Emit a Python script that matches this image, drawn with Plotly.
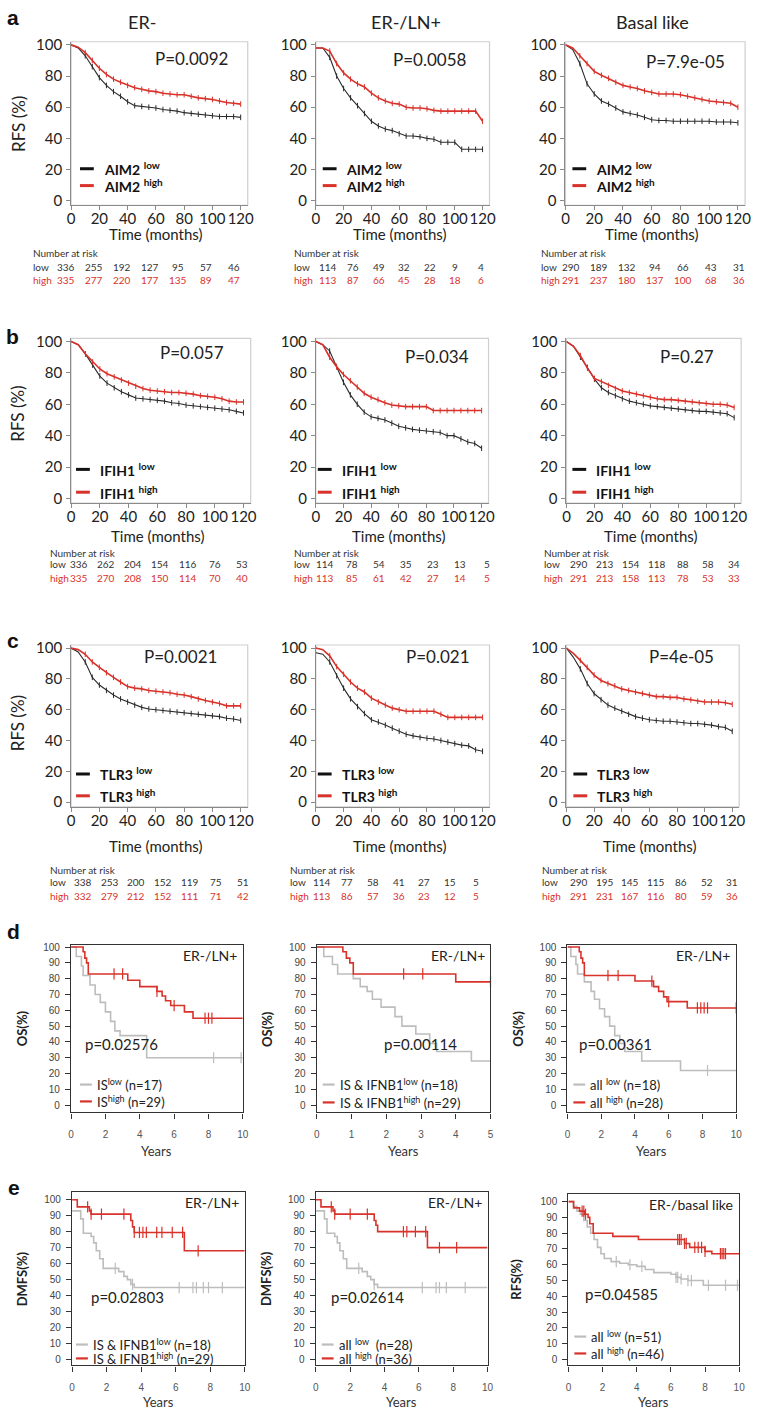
import plotly.graph_objects as go

W, H = 758, 1416
RED = '#d8322a'
BLACK = '#2b2b2b'
GRAY = '#bdbdbd'
FONT = 'Lato, Open Sans, sans-serif'
TICKFONT2 = 'Liberation Sans, Arial, sans-serif'

# ---------------- data: rows a-c (RFS, months) ----------------
T = [0, 5, 10, 15, 20, 25, 30, 35, 40, 45, 50, 55, 60, 65, 70, 75, 80, 85, 90, 95, 100, 105, 110, 115, 120]

a1_low = [100, 98, 93, 86, 79, 74, 70, 67, 63.5, 61, 60.5, 60, 59.5, 58.5, 58, 57.5, 56.5, 56, 55.5, 55, 54.5, 54, 54, 54, 53.5]
a1_high = [100, 98.5, 95, 90, 85, 81, 78, 76, 74, 72.5, 71.5, 70.5, 70, 69, 68.5, 68, 68, 67, 66, 65.5, 65, 64, 63, 62.5, 62]
a2_low = [98, 98, 92, 80, 72, 66, 61, 56, 51, 48, 46, 45, 43, 41.5, 41.5, 41, 40, 39.5, 37.5, 37.5, 37.5, 33, 33, 33, 33]
a2_high = [98, 98, 96, 88, 82, 78, 75, 73, 69, 66, 64, 62.5, 62, 60, 59.5, 59.5, 59, 58, 57.5, 57.5, 57.5, 57.5, 57.5, 57.5, 51]
a3_low = [100, 97, 88, 75, 68.5, 64, 62, 59.5, 57, 56, 55, 53.5, 52, 51.5, 51.5, 51, 51, 51, 51, 51, 51, 50.5, 50.5, 50.5, 50]
a3_high = [100, 98, 93, 88, 83, 80.5, 78.5, 76, 74, 73, 72, 70.5, 69.5, 68.5, 68.5, 68.5, 68, 67, 66, 65, 64, 63.5, 63, 62.5, 60]

b1_low = [100, 98, 92, 85, 78, 73.5, 70.5, 68, 66, 64, 63.5, 63, 62.5, 62, 61, 60.5, 59.5, 59, 58.5, 58, 57.5, 57, 56.5, 55.5, 54.5]
b1_high = [100, 98, 92, 87, 82.5, 79.5, 77.5, 75.5, 73.5, 71.5, 70, 69, 68.5, 68, 67.5, 67.5, 67, 66.5, 65.5, 65, 64.5, 63.5, 62, 61.5, 61.5]
b2_low = [100, 98, 94, 84, 74, 66, 60, 55, 52, 51, 50, 48, 46, 45, 44, 43.5, 43, 42.5, 42, 40, 40, 38, 36, 35, 32]
b2_high = [100, 98, 90, 84, 79, 75, 71, 67, 64.5, 63, 61, 59.5, 59, 58.5, 58.5, 58.5, 58.5, 56, 56, 56, 56, 56, 56, 56, 56]
b3_low = [100, 97, 90, 83.5, 76, 70.5, 67.5, 65.5, 63.5, 62, 61, 60, 59, 58.5, 58, 57.5, 57, 56.5, 56, 55.5, 55.5, 55, 54.5, 54, 51.5]
b3_high = [100, 97, 91, 83, 76.5, 74.5, 72, 70, 68.5, 67.5, 66.5, 65.5, 64.5, 63.5, 63, 63, 62.5, 62, 61.5, 61, 60.5, 60, 60, 59.5, 58]

c1_low = [100, 97.5, 91, 81, 76, 72.5, 69.5, 67, 65, 63, 61.5, 60.5, 60, 59.5, 59, 58.5, 58, 57.5, 57, 56.5, 56, 55.5, 54.5, 54, 53]
c1_high = [100, 99, 96, 91, 87.5, 84, 81, 78, 75, 74, 73.5, 72.5, 72, 71.5, 71, 70, 69.5, 68.5, 67, 66, 65, 64, 62.5, 62.5, 62.5]
c2_low = [97, 96, 91, 82, 74, 67, 62, 57.5, 53.5, 52, 50, 48, 46, 44, 43, 42, 41.5, 41, 40, 39, 38, 37, 36.5, 34, 33]
c2_high = [100, 99, 95, 88, 83, 78, 74, 71.5, 67.5, 65, 63, 61, 60, 59, 59, 59, 59, 59, 57, 55, 55, 55, 55, 55, 55]
c3_low = [100, 94, 86.5, 77, 70.5, 66.5, 63, 61, 59, 57, 55.5, 54.5, 53.5, 53, 52.5, 52.5, 52, 51.5, 51, 51, 50.5, 50, 49, 48.5, 46]
c3_high = [100, 96.5, 92, 87.5, 82.5, 79, 77, 75.5, 73.5, 72.5, 71.5, 70.5, 69.5, 68.5, 68.5, 68, 68, 67, 66.5, 65.5, 65, 65, 65, 64.5, 63.5]

# number at risk
a1_risk_low = [336, 255, 192, 127, 95, 57, 46]
a1_risk_high = [335, 277, 220, 177, 135, 89, 47]
a2_risk_low = [114, 76, 49, 32, 22, 9, 4]
a2_risk_high = [113, 87, 66, 45, 28, 18, 6]
a3_risk_low = [290, 189, 132, 94, 66, 43, 31]
a3_risk_high = [291, 237, 180, 137, 100, 68, 36]
b1_risk_low = [336, 262, 204, 154, 116, 76, 53]
b1_risk_high = [335, 270, 208, 150, 114, 70, 40]
b2_risk_low = [114, 78, 54, 35, 23, 13, 5]
b2_risk_high = [113, 85, 61, 42, 27, 14, 5]
b3_risk_low = [290, 213, 154, 118, 88, 58, 34]
b3_risk_high = [291, 213, 158, 113, 78, 53, 33]
c1_risk_low = [338, 253, 200, 152, 119, 75, 51]
c1_risk_high = [332, 279, 212, 152, 111, 71, 42]
c2_risk_low = [114, 77, 58, 41, 27, 15, 5]
c2_risk_high = [113, 86, 57, 36, 23, 12, 5]
c3_risk_low = [290, 195, 145, 115, 86, 52, 31]
c3_risk_high = [291, 231, 167, 116, 80, 59, 36]

genes = ['AIM2', 'IFIH1', 'TLR3']
col_titles = ['ER-', 'ER-/LN+', 'Basal like']
pvals_abc = [['P=0.0092', 'P=0.0058', 'P=7.9e-05'],
             ['P=0.057', 'P=0.034', 'P=0.27'],
             ['P=0.0021', 'P=0.021', 'P=4e-05']]

# ---------------- data: rows d-e (years) ----------------
d1_low_t = [0, 0.3, 0.6, 0.7, 1.1, 1.4, 1.7, 2.0, 2.3, 2.55, 2.85, 4.4, 10]
d1_low_s = [100, 94, 88, 82, 76, 70, 65, 59, 53, 47, 44, 30, 30]
d1_low_c = [8.3, 9.9]
d1_high_t = [0, 0.7, 0.8, 0.9, 1.0, 3.3, 4.0, 5.0, 5.3, 5.5, 5.8, 6.6, 7.1, 10]
d1_high_s = [100, 97, 93, 90, 83, 79, 75, 72, 69, 66, 63, 59, 55, 55]
d1_high_c = [2.5, 3.0, 5.0, 6.0, 7.8, 8.0, 8.2]

d2_low_t = [0, 0.2, 0.45, 0.6, 1.05, 1.25, 1.45, 1.6, 1.85, 2.25, 2.45, 2.85, 3.25, 3.45, 4.45, 5]
d2_low_s = [100, 94, 89, 83, 80, 75, 72, 67, 62, 56, 50, 45, 39, 34, 28, 28]
d2_low_c = []
d2_high_t = [0, 0.75, 0.85, 0.95, 1.05, 4.0, 5]
d2_high_s = [100, 97, 93, 90, 83, 78, 78]
d2_high_c = [2.5, 3.05, 5.0]

d3_low_t = [0, 0.2, 0.5, 0.6, 1.0, 1.4, 1.6, 1.9, 2.2, 2.5, 2.8, 3.1, 3.4, 4.4, 6.7, 10]
d3_low_s = [100, 94, 89, 83, 78, 72, 67, 61, 56, 50, 44, 39, 34, 28, 22, 22]
d3_low_c = [8.3]
d3_high_t = [0, 0.7, 0.8, 0.9, 1.0, 4.0, 5.1, 5.4, 5.7, 5.9, 7.1, 10]
d3_high_s = [100, 97, 93, 90, 82, 78.5, 75, 72, 68.5, 65.5, 61.5, 61.5]
d3_high_c = [2.4, 3.0, 5.0, 6.0, 7.7, 7.9, 8.1, 8.3, 10]

e1_low_t = [0, 0.5, 0.65, 1.1, 1.25, 1.4, 1.6, 1.8, 2.7, 3.0, 3.2, 3.4, 3.6, 10]
e1_low_s = [93, 88, 79, 77, 73, 68, 63, 57, 55, 52, 50, 47, 45, 45]
e1_low_c = [2.5, 3.5, 6.2, 7.0, 7.2, 7.6, 7.9, 8.7]
e1_high_t = [0, 0.3, 1.0, 1.1, 3.4, 3.5, 3.6, 6.5, 10]
e1_high_s = [100, 95.5, 93, 91, 87, 83, 79.5, 68, 68]
e1_high_c = [0.9, 1.1, 1.7, 3.0, 3.6, 3.9, 4.1, 4.3, 4.9, 5.2, 5.8, 6.4, 7.3]

e2_low_t = [0, 0.5, 0.65, 1.1, 1.25, 1.4, 1.6, 1.8, 2.7, 3.0, 3.2, 3.4, 3.6, 10]
e2_low_s = [93, 88, 79, 77, 73, 68, 63, 57, 55, 52, 50, 47, 45, 45]
e2_low_c = [2.5, 3.4, 6.2, 7.0, 7.2, 7.6, 8.7]
e2_high_t = [0, 0.3, 1.0, 1.1, 3.4, 3.5, 3.6, 6.5, 10]
e2_high_s = [100, 95.5, 93, 91, 87, 84, 80, 70, 70]
e2_high_c = [0.9, 1.1, 2.0, 3.0, 5.1, 5.3, 5.8, 6.4, 7.2, 8.2]

e3_low_t = [0, 0.3, 0.5, 0.7, 0.9, 1.1, 1.3, 1.5, 1.7, 1.9, 2.1, 2.5, 3.0, 3.5, 4.0, 4.5, 5.0, 6.0, 6.3, 6.6, 7.0, 7.9, 10]
e3_low_s = [100, 97, 94, 92, 88, 84, 80, 76, 71, 67, 64, 62, 61, 60, 59, 57, 55, 54, 52, 51, 50, 47, 47]
e3_low_c = [2.8, 3.6, 4.3, 6.3, 6.4, 6.6, 7.0, 7.2, 8.2, 9.2, 9.9]
e3_high_t = [0, 0.3, 0.65, 0.95, 1.15, 1.25, 1.45, 2.6, 4.1, 6.8, 7.1, 8.0, 8.4, 10]
e3_high_s = [100, 96, 94, 92, 90, 86, 80, 78, 76, 73.5, 71, 68.5, 67, 67]
e3_high_c = [0.8, 0.9, 1.0, 6.4, 6.5, 6.6, 6.8, 6.9, 7.4, 7.6, 7.8, 8.0, 8.9, 9.0, 9.1, 9.2]

# ---------------- helpers ----------------
fig = go.Figure()
annotations = []
shapes = []
layout = dict(width=W, height=H, margin=dict(l=0, r=0, t=0, b=0),
              paper_bgcolor='white', plot_bgcolor='rgba(0,0,0,0)', showlegend=False)
axis_n = [0]


def PX(px):
    return px / W


def PY(py):
    return 1 - py / H


def sup(s, size):
    return '<sup><span style="font-size:%dpx">%s</span></sup>' % (size, s)


def text(px, py, s, size, color='#222', xanchor='center', yanchor='middle', angle=0, family=FONT):
    annotations.append(dict(x=PX(px), y=PY(py), xref='paper', yref='paper', text=s,
                            showarrow=False, font=dict(size=size, color=color, family=family),
                            xanchor=xanchor, yanchor=yanchor, textangle=angle))


def hline(x0, x1, py, color, width):
    shapes.append(dict(type='line', xref='paper', yref='paper', x0=PX(x0), x1=PX(x1),
                       y0=PY(py), y1=PY(py), line=dict(color=color, width=width)))


def new_axes(box, xr, yr, xticks, yticks, kind):
    axis_n[0] += 1
    n = axis_n[0]
    sfx = '' if n == 1 else str(n)
    x0, x1, y0, y1 = box
    xd = [PX(x0), PX(x1)]
    yd = [PY(y1), PY(y0)]
    if kind == 'rfs':
        common = dict(showgrid=False, zeroline=False, showline=True, linecolor='#8a8a8a', linewidth=1,
                      ticks='outside', ticklen=4, tickcolor='#8a8a8a', mirror=False, tickangle=0)
        xa = dict(common, domain=xd, range=xr, tickvals=xticks,
                  tickfont=dict(size=15, color='#222', family=FONT), anchor='y' + sfx,
                  ticklabelstandoff=-4)
        ya = dict(common, domain=yd, range=yr, tickvals=yticks,
                  tickfont=dict(size=15, color='#222', family=FONT), anchor='x' + sfx, ticklabelstandoff=1)
        shapes.append(dict(type='rect', xref='paper', yref='paper', x0=xd[0], x1=xd[1],
                           y0=yd[0], y1=yd[1], line=dict(color='#cfcfcf', width=1.2), layer='below'))
    else:
        common = dict(showgrid=False, zeroline=False, showline=True, linecolor='#333', linewidth=1.4,
                      ticks='outside', ticklen=5, tickcolor='#333', mirror=True, tickangle=0)
        xa = dict(common, domain=xd, range=xr, tickvals=xticks,
                  tickfont=dict(size=10, color='#555', family=TICKFONT2), anchor='y' + sfx,
                  ticklabelstandoff=7)
        ya = dict(common, domain=yd, range=yr, tickvals=yticks,
                  tickfont=dict(size=10, color='#444', family=TICKFONT2), anchor='x' + sfx,
                  ticklabelstandoff=3)
    layout['xaxis' + sfx] = xa
    layout['yaxis' + sfx] = ya
    return 'x' + sfx, 'y' + sfx


def step_at(ts, ss, t):
    v = ss[0]
    for ti, si in zip(ts, ss):
        if ti <= t:
            v = si
    return v


# ---------------- rows a-c ----------------
rows_abc = [
    dict(label='a', y=(35, 200), boxes=[(68, 247), (316, 492), (569, 751)],
         curves=[(a1_low, a1_high), (a2_low, a2_high), (a3_low, a3_high)],
         risk=[(a1_risk_low, a1_risk_high), (a2_risk_low, a2_risk_high), (a3_risk_low, a3_risk_high)],
         risk_x=[(27, 63, 233), (292, 328, 483), (542, 575, 745)],
         risk_y=(248, 262, 275), time_y=229, leg_y=(163, 180), leg_x=[77, 323, 576],
         pv_xy=[(190, 52), (432, 53), (691, 55)], ytitle=118, label_y=11),
    dict(label='b', y=(334, 500), boxes=[(68, 250), (316, 491), (570, 747)],
         curves=[(b1_low, b1_high), (b2_low, b2_high), (b3_low, b3_high)],
         risk=[(b1_risk_low, b1_risk_high), (b2_risk_low, b2_risk_high), (b3_risk_low, b3_risk_high)],
         risk_x=[(45, 76, 241), (292, 325, 489), (545, 583, 740)],
         risk_y=(550, 561, 575), time_y=533, leg_y=(466, 489), leg_x=[73, 318, 576],
         pv_xy=[(191, 348), (439, 352), (692, 352)], ytitle=410, label_y=332),
    dict(label='c', y=(643, 806), boxes=[(68, 247), (316, 492), (570, 745)],
         curves=[(c1_low, c1_high), (c2_low, c2_high), (c3_low, c3_high)],
         risk=[(c1_risk_low, c1_risk_high), (c2_risk_low, c2_risk_high), (c3_risk_low, c3_risk_high)],
         risk_x=[(45, 80, 242), (288, 322, 478), (543, 583, 738)],
         risk_y=(870, 882, 896), time_y=846, leg_y=(773, 795), leg_x=[73, 318, 577],
         pv_xy=[(179, 655), (440, 655), (687, 655)], ytitle=722, label_y=638),
]

for ri, row in enumerate(rows_abc):
    gene = genes[ri]
    text(9, row['label_y'], '<b>' + row['label'] + '</b>', 21, '#111', family='Liberation Sans, Arial')
    text(14, row['ytitle'], 'RFS (%)', 17, '#222', angle=-90)
    for ci in range(3):
        x0, x1 = row['boxes'][ci]
        y0, y1 = row['y']
        xa, ya = new_axes((x0, x1, y0, y1), [0, 125], [-3, 102],
                          [0, 20, 40, 60, 80, 100, 120], [0, 20, 40, 60, 80, 100], 'rfs')
        low, high = row['curves'][ci]
        for vals, col, wd in ((low, BLACK, 1.1), (high, RED, 1.6)):
            fig.add_trace(go.Scatter(x=T, y=vals, mode='lines', line=dict(color=col, width=wd),
                                     xaxis=xa, yaxis=ya, hoverinfo='skip'))
            fig.add_trace(go.Scatter(x=T[2:], y=vals[2:], mode='markers',
                                     marker=dict(symbol='line-ns-open', size=4, color=col,
                                                 line=dict(color=col, width=1)),
                                     xaxis=xa, yaxis=ya, hoverinfo='skip', cliponaxis=False))
        px_per = (x1 - x0) / 125.0
        text(x0 + 60 * px_per, row['time_y'], 'Time (months)', 15, '#222')
        px, py = row['pv_xy'][ci]
        text(px, py, pvals_abc[ri][ci], 17, '#222')
        lx = row['leg_x'][ci]
        for k, (lab, col) in enumerate((('low', '#111'), ('high', RED))):
            yy = row['leg_y'][k]
            hline(lx, lx + 14, yy, col, 3)
            text(lx + 22, yy, '<b>' + gene + ' ' + sup(lab, 10) + '</b>', 14, '#111', xanchor='left')
        lab_x, fx, lxr = row['risk_x'][ci]
        ry0, ry1, ry2 = row['risk_y']
        text(lab_x, ry0, 'Number at risk', 10, '#333', xanchor='left')
        text(lab_x, ry1, 'low', 10, '#333', xanchor='left')
        text(lab_x, ry2, 'high', 10, RED, xanchor='left')
        rl, rh = row['risk'][ci]
        n = len(rl)
        for i in range(n):
            cx = fx + (lxr - fx) * i / (n - 1)
            text(cx, ry1, str(rl[i]), 10, '#333')
            text(cx, ry2, str(rh[i]), 10, RED)

for ci, t in enumerate(col_titles):
    text([140, 407, 657][ci], 15, t, 18, '#222')

# ---------------- rows d-e ----------------
panels_de = [
    dict(box=(68, 242, 945, 1114), xr=[0, 10], xt=[0, 2, 4, 6, 8, 10], yr=[-4.5, 101.5],
         low=(d1_low_t, d1_low_s, d1_low_c), high=(d1_high_t, d1_high_s, d1_high_c),
         ylab='OS(%)', ylab_x=18, p='p=0.02576', p_xy=(119, 1045), corner='ER-/LN+',
         leg=(('IS', 'low', ' (n=17)'), ('IS', 'high', ' (n=29)')), leg_x=77, leg_y=(1086, 1103),
         years_y=1153),
    dict(box=(317, 493, 945, 1114), xr=[0, 5], xt=[0, 1, 2, 3, 4, 5], yr=[-4.5, 101.5],
         low=(d2_low_t, d2_low_s, d2_low_c), high=(d2_high_t, d2_high_s, d2_high_c),
         ylab='OS(%)', ylab_x=266, p='p=0.00114', p_xy=(422, 1045), corner='ER-/LN+',
         leg=(('IS &amp; IFNB1', 'low', ' (n=18)'), ('IS &amp; IFNB1', 'high', ' (n=29)')),
         leg_x=323, leg_y=(1086, 1104), years_y=1153),
    dict(box=(571, 742, 945, 1114), xr=[0, 10], xt=[0, 2, 4, 6, 8, 10], yr=[-4.5, 101.5],
         low=(d3_low_t, d3_low_s, d3_low_c), high=(d3_high_t, d3_high_s, d3_high_c),
         ylab='OS(%)', ylab_x=520, p='p=0.00361', p_xy=(620, 1045), corner='ER-/LN+',
         leg=(('all ', 'low', ' (n=18)'), ('all ', 'high', ' (n=28)')), leg_x=577, leg_y=(1086, 1104),
         years_y=1153),
    dict(box=(69, 244, 1194, 1369), xr=[0, 10], xt=[0, 2, 4, 6, 8, 10], yr=[-3.7, 105],
         low=(e1_low_t, e1_low_s, e1_low_c), high=(e1_high_t, e1_high_s, e1_high_c),
         ylab='DMFS(%)', ylab_x=18, p='p=0.02803', p_xy=(125, 1300), corner='ER-/LN+',
         leg=(('IS &amp; IFNB1', 'low', ' (n=18)'), ('IS &amp; IFNB1', 'high', ' (n=29)')),
         leg_x=73, leg_y=(1348, 1362), years_y=1406),
    dict(box=(316, 490, 1194, 1369), xr=[0, 10], xt=[0, 2, 4, 6, 8, 10], yr=[-3.7, 105],
         low=(e2_low_t, e2_low_s, e2_low_c), high=(e2_high_t, e2_high_s, e2_high_c),
         ylab='DMFS(%)', ylab_x=265, p='p=0.02614', p_xy=(368, 1300), corner='ER-/LN+',
         leg=(('all ', 'low', '  (n=28)'), ('all ', 'high', ' (n=36)')),
         leg_x=322, leg_y=(1348, 1362), years_y=1406),
    dict(box=(572, 745, 1196, 1369), xr=[0, 10], xt=[0, 2, 4, 6, 8, 10], yr=[-3.7, 105],
         low=(e3_low_t, e3_low_s, e3_low_c), high=(e3_high_t, e3_high_s, e3_high_c),
         ylab='RFS(%)', ylab_x=518, p='p=0.04585', p_xy=(626, 1297), corner='ER-/basal like',
         leg=(('all ', 'low', ' (n=51)'), ('all ', 'high', ' (n=46)')),
         leg_x=578, leg_y=(1340, 1357), years_y=1406),
]

text(10, 932, '<b>d</b>', 21, '#111', family='Liberation Sans, Arial')
text(10, 1190, '<b>e</b>', 21, '#111', family='Liberation Sans, Arial')

for p in panels_de:
    x0, x1, y0, y1 = p['box']
    xa, ya = new_axes(p['box'], p['xr'], p['yr'], p['xt'], list(range(0, 101, 10)), 'km')
    for (ts, ss, cs), col in ((p['low'], GRAY), (p['high'], RED)):
        fig.add_trace(go.Scatter(x=ts, y=ss, mode='lines', line=dict(color=col, width=1.6, shape='hv'),
                                 xaxis=xa, yaxis=ya, hoverinfo='skip', cliponaxis=False))
        if cs:
            fig.add_trace(go.Scatter(x=cs, y=[step_at(ts, ss, c) for c in cs], mode='markers',
                                     marker=dict(symbol='line-ns-open', size=8, color=col,
                                                 line=dict(color=col, width=1.2)),
                                     xaxis=xa, yaxis=ya, hoverinfo='skip', cliponaxis=False))
    text(p['ylab_x'], (y0 + y1) / 2, '<b>' + p['ylab'] + '</b>', 13, '#222', angle=-90)
    text((x0 + x1) / 2, p['years_y'], 'Years', 13, '#333')
    text(p['p_xy'][0], p['p_xy'][1], p['p'], 15, '#222')
    text(x1 - 4, y0 + 11, p['corner'], 14, '#222', xanchor='right')
    for k, col in enumerate((GRAY, RED)):
        yy = p['leg_y'][k]
        hline(p['leg_x'], p['leg_x'] + 12, yy, col, 2.2)
        base, s, tail = p['leg'][k]
        text(p['leg_x'] + 15, yy, base + sup(s, 9) + tail, 13, '#222', xanchor='left')

layout['annotations'] = annotations
layout['shapes'] = shapes
fig.update_layout(**layout)
# remove the default page margin so the 758x1416 figure fills the window exactly
fig.write_html('out.html', config={'displayModeBar': False},
               post_script="document.body.style.margin='0';document.body.style.overflow='hidden';")
